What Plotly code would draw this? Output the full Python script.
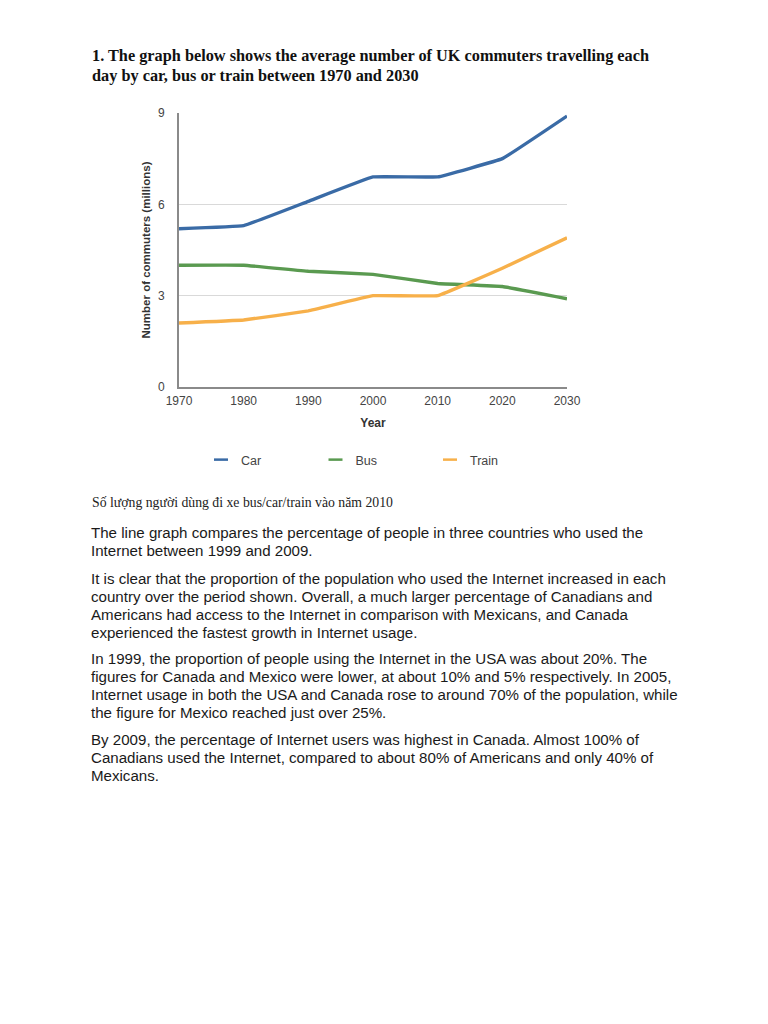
import plotly.graph_objects as go

W, H = 768, 1024

years = [1970, 1980, 1990, 2000, 2010, 2020, 2030]
car = [5.2, 5.3, 6.1, 6.9, 6.9, 7.5, 8.9]
bus = [4.0, 4.0, 3.8, 3.7, 3.4, 3.3, 2.9]
train = [2.1, 2.2, 2.5, 3.0, 3.0, 3.9, 4.9]
y_ticks = [0, 3, 6, 9]

series_names = ["Car", "Bus", "Train"]
series_colors = ["#3a6ba6", "#5a9a50", "#f7b04a"]

title_lines = [
    "1. The graph below shows the average number of UK commuters travelling each",
    "day by car, bus or train between 1970 and 2030",
]
caption = "Số lượng người dùng đi xe bus/car/train vào năm 2010"
paragraphs = [
    ["The line graph compares the percentage of people in three countries who used the",
     "Internet between 1999 and 2009."],
    ["It is clear that the proportion of the population who used the Internet increased in each",
     "country over the period shown. Overall, a much larger percentage of Canadians and",
     "Americans had access to the Internet in comparison with Mexicans, and Canada",
     "experienced the fastest growth in Internet usage."],
    ["In 1999, the proportion of people using the Internet in the USA was about 20%. The",
     "figures for Canada and Mexico were lower, at about 10% and 5% respectively. In 2005,",
     "Internet usage in both the USA and Canada rose to around 70% of the population, while",
     "the figure for Mexico reached just over 25%."],
    ["By 2009, the percentage of Internet users was highest in Canada. Almost 100% of",
     "Canadians used the Internet, compared to about 80% of Americans and only 40% of",
     "Mexicans."],
]


def px_x(x):
    return x / W


def px_y(y):
    return 1 - y / H


fig = go.Figure()
for name, vals, col in zip(series_names, [car, bus, train], series_colors):
    fig.add_trace(go.Scatter(x=years, y=vals, mode="lines", name=name, legendgroup=name,
                             showlegend=False,
                             line=dict(color=col, width=3.4, shape="spline", smoothing=0.2)))
# legend entries: short line symbol like the original
for name, col in zip(series_names, series_colors):
    fig.add_trace(go.Scatter(x=[None], y=[None], mode="markers", name=name, legendgroup=name,
                             showlegend=True, hoverinfo="skip",
                             marker=dict(symbol="line-ew", size=10, color=col,
                                         line=dict(color=col, width=2.5))))

fig.update_layout(
    width=W, height=H,
    margin=dict(l=0, r=0, t=0, b=0, pad=0, autoexpand=False),
    paper_bgcolor="white", plot_bgcolor="white",
    font=dict(family="Liberation Sans, Arial, sans-serif", color="#333333"),
    showlegend=True,
    legend=dict(orientation="h", x=px_x(201), y=px_y(460), xanchor="left", yanchor="middle",
                font=dict(size=12.5, color="#444444"), entrywidth=69.5, entrywidthmode="pixels",
                itemwidth=30, bgcolor="rgba(0,0,0,0)", tracegroupgap=0),
    xaxis=dict(domain=[px_x(179), px_x(567)], range=[1970, 2030], automargin=False,
               tickvals=years, ticks="", showgrid=False, ticklabelstandoff=2,
               showline=True, linecolor="#8a8a8a", linewidth=2,
               tickfont=dict(size=12, color="#444444"),
               title=dict(text="<b>Year</b>", font=dict(size=12, color="#333333"), standoff=11),
               zeroline=False, fixedrange=True),
    yaxis=dict(domain=[px_y(387), px_y(113)], range=[0, 9], automargin=False,
               tickvals=y_ticks, ticks="", showgrid=True, gridcolor="#d9d9d9", gridwidth=1,
               showline=True, linecolor="#8a8a8a", linewidth=2, ticklabelstandoff=10,
               tickfont=dict(size=12, color="#444444"),
               title=dict(text="<b>Number of commuters (millions)</b>",
                          font=dict(size=11.5, color="#333333"), standoff=5),
               zeroline=False, fixedrange=True),
)

anns = []
for i, line in enumerate(title_lines):
    anns.append(dict(text="<b>" + line + "</b>", x=px_x(90), y=px_y(55 + 20 * i),
                     xanchor="left", yanchor="middle", showarrow=False,
                     xref="paper", yref="paper",
                     font=dict(family="Liberation Serif, Times New Roman, serif", size=16.3,
                               color="#111111")))
anns.append(dict(text=caption, x=px_x(90), y=px_y(502), xanchor="left", yanchor="middle",
                 showarrow=False, xref="paper", yref="paper",
                 font=dict(family="Liberation Serif, Times New Roman, serif", size=13.75,
                           color="#222222")))
para_starts = [532, 578, 658, 739]
for start, para in zip(para_starts, paragraphs):
    for j, line in enumerate(para):
        anns.append(dict(text=line, x=px_x(89), y=px_y(start + 18 * j),
                         xanchor="left", yanchor="middle", showarrow=False,
                         xref="paper", yref="paper",
                         font=dict(family="Liberation Sans, Arial, sans-serif", size=15.1,
                                   color="#1a1a1a")))
fig.update_layout(annotations=anns)

fig.write_html("out.html", config={"displayModeBar": False},
               post_script="document.body.style.margin='0';document.body.style.overflow='hidden';")
